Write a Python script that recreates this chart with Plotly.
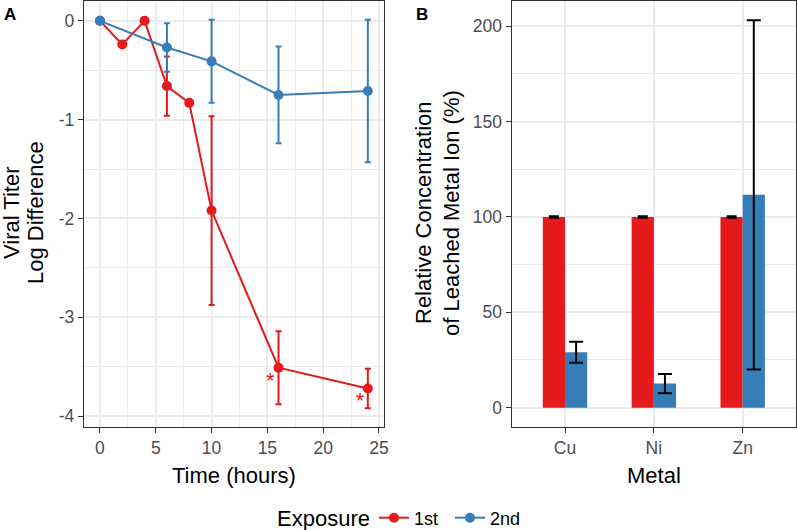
import plotly.graph_objects as go
from plotly.subplots import make_subplots

# Panel A - viral titer log difference over time
time_1st = [0, 2, 4, 6, 8, 10, 16, 24]
titer_1st = [0, -0.24, 0, -0.66, -0.83, -1.92, -3.51, -3.72]
err_1st = [None, None, None, 0.30, None, 0.955, 0.37, 0.20]

time_2nd = [0, 6, 10, 16, 24]
titer_2nd = [0, -0.27, -0.41, -0.75, -0.71]
err_2nd = [None, 0.245, 0.42, 0.49, 0.72]

star_x = [15.25, 23.3]
star_y = [-3.66, -3.86]

# Panel B - relative concentration of leached metal ion
metals = ["Cu", "Ni", "Zn"]
conc_1st = [100, 100, 100]
conc_1st_err = [0.4, 0.4, 0.4]
conc_2nd = [29.0, 12.6, 111.6]
conc_2nd_err = [5.5, 5.0, 91.6]

RED = "#E41A1C"
BLUE = "#377EB8"
FONT = "Liberation Sans, Arial, sans-serif"
GRID = "#EBEBEB"
BORDER = "#333333"
TICKFONT = dict(family=FONT, size=17.5, color="#4D4D4D")

fig = make_subplots(rows=1, cols=2)

# A: lines with error bars
fig.add_trace(
    go.Scatter(
        x=time_1st, y=titer_1st, mode="lines+markers", name="1st",
        line=dict(color=RED, width=2), marker=dict(color=RED, size=10),
        error_y=dict(type="data", array=err_1st, color=RED, thickness=2, width=3),
        legendgroup="1st",
    ),
    row=1, col=1,
)
fig.add_trace(
    go.Scatter(
        x=time_2nd, y=titer_2nd, mode="lines+markers", name="2nd",
        line=dict(color=BLUE, width=2), marker=dict(color=BLUE, size=10),
        error_y=dict(type="data", array=err_2nd, color=BLUE, thickness=2, width=3),
        legendgroup="2nd",
    ),
    row=1, col=1,
)
fig.add_trace(
    go.Scatter(
        x=star_x, y=star_y, mode="text", text=["*", "*"],
        textfont=dict(family=FONT, size=22, color=RED), showlegend=False,
        hoverinfo="skip",
    ),
    row=1, col=1,
)

# B: grouped bars
fig.add_trace(
    go.Bar(
        x=metals, y=conc_1st, marker=dict(color=RED, line=dict(width=0)),
        error_y=dict(type="data", array=conc_1st_err, color="black", thickness=2, width=5),
        showlegend=False, legendgroup="1st",
    ),
    row=1, col=2,
)
fig.add_trace(
    go.Bar(
        x=metals, y=conc_2nd, marker=dict(color=BLUE, line=dict(width=0)),
        error_y=dict(type="data", array=conc_2nd_err, color="black", thickness=2, width=7),
        showlegend=False, legendgroup="2nd",
    ),
    row=1, col=2,
)

axis_common = dict(
    automargin=False,
    showgrid=True, gridcolor=GRID, gridwidth=1.6,
    zeroline=False, showline=True, linecolor=BORDER, linewidth=1.3, mirror=True,
    ticks="outside", ticklen=5, tickcolor=BORDER, tickwidth=1,
    tickfont=TICKFONT,
)

fig.update_xaxes(
    domain=[84 / 797, 384 / 797], range=[-1.43, 25.45],
    tickmode="array", tickvals=[0, 5, 10, 15, 20, 25],
    ticktext=["0", "5", "10", "15", "20", "25"],
    minor=dict(tickvals=[2.5, 7.5, 12.5, 17.5, 22.5], showgrid=True,
               gridcolor=GRID, gridwidth=0.8, ticks=""),
    row=1, col=1, **axis_common,
)
fig.update_yaxes(
    domain=[103 / 530, 0.998], range=[-4.11, 0.2],
    tickmode="array", tickvals=[-4, -3, -2, -1, 0],
    ticktext=["-4", "-3", "-2", "-1", "0"],
    minor=dict(tickvals=[-3.5, -2.5, -1.5, -0.5], showgrid=True,
               gridcolor=GRID, gridwidth=0.8, ticks=""),
    row=1, col=1, **axis_common,
)
fig.update_xaxes(
    domain=[511.7 / 797, 796 / 797], range=[-0.6, 2.6],
    row=1, col=2, **axis_common,
)
fig.update_yaxes(
    domain=[103 / 530, 0.998], range=[-10.15, 213.2],
    tickmode="array", tickvals=[0, 50, 100, 150, 200],
    minor=dict(tickvals=[25, 75, 125, 175], showgrid=True,
               gridcolor=GRID, gridwidth=0.8, ticks=""),
    row=1, col=2, **axis_common,
)

# axis titles (one annotation per line) and panel tags
title_font = dict(family=FONT, size=22, color="black")
for text, x, y, angle in [
    ("Viral Titer", 11, 213, -90),
    ("Log Difference", 35, 213, -90),
    ("Relative Concentration", 423, 213, -90),
    ("of Leached Metal Ion (%)", 451, 213, -90),
    ("Time (hours)", 234, 475, 0),
    ("Metal", 654, 475, 0),
    ("Exposure", 323, 518, 0),
]:
    fig.add_annotation(
        text=text, xref="paper", yref="paper", x=x / 797, y=1 - y / 530,
        textangle=angle, showarrow=False, xanchor="center", yanchor="middle",
        font=title_font,
    )
for text, x in [("<b>A</b>", 10), ("<b>B</b>", 422)]:
    fig.add_annotation(
        text=text, xref="paper", yref="paper", x=x / 797, y=1 - 15 / 530,
        showarrow=False, xanchor="center", yanchor="middle",
        font=dict(family=FONT, size=17, color="black"),
    )

fig.update_layout(
    width=797, height=530,
    margin=dict(l=0, r=0, t=0, b=0, autoexpand=False),
    plot_bgcolor="white", paper_bgcolor="white",
    font=dict(family=FONT, color="black"),
    barmode="group", bargap=0.5, bargroupgap=0,
    showlegend=True,
    legend=dict(
        orientation="h", x=374 / 797, xanchor="left", y=1 - 518 / 530, yanchor="middle",
        font=dict(family=FONT, size=18), itemwidth=30, entrywidth=31,
    ),
)

# the page body has a default 8px margin; drop it so the figure sits at 0,0
fig.write_html(
    "out.html",
    config={"displayModeBar": False},
    post_script="document.body.style.margin = '0';",
)
